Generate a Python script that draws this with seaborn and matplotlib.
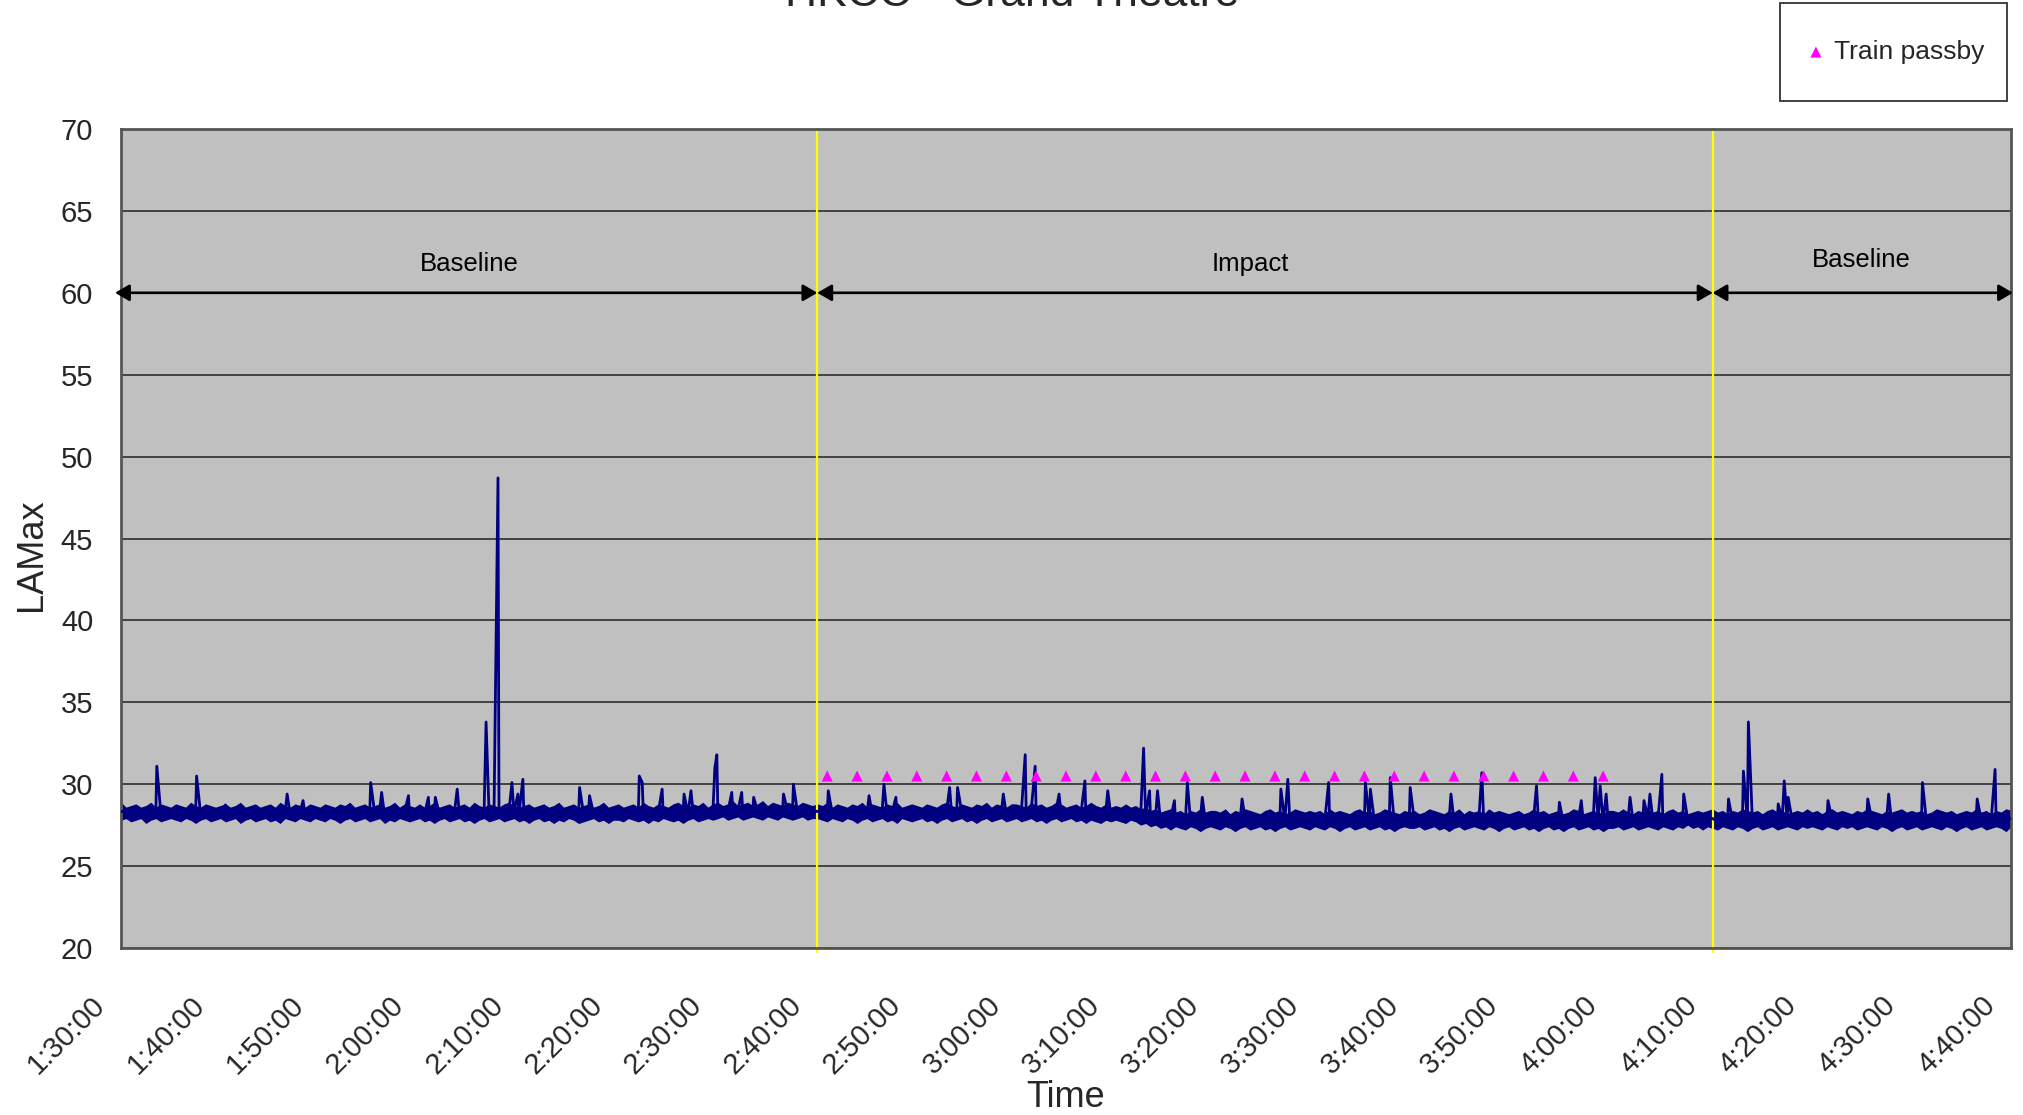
import matplotlib
matplotlib.use("Agg")
import numpy as np
import pandas as pd
import matplotlib.pyplot as plt
import seaborn as sns
from matplotlib.patches import Rectangle
from matplotlib.transforms import ScaledTranslation

# ---------------------------------------------------------------- data
start_time = "1:30:00"
sample_step_s = 30  # one envelope pair every 30 s

# highest LAMax in each 30 s slot, 1:30:00 to 4:40:00 (one row per 10 minutes)
lamax_high = [
    28.9, 28.6, 28.7, 28.8, 28.6, 28.7, 28.9, 28.6, 28.8, 28.7, 28.6, 28.8, 28.7, 28.6, 28.9, 28.7, 28.6, 28.8, 28.7, 28.6,
    28.7, 28.8, 28.6, 28.7, 28.9, 28.6, 28.7, 28.8, 28.6, 28.7, 28.8, 28.6, 28.9, 28.7, 28.6, 28.8, 28.7, 28.6, 28.8, 28.7,
    28.6, 28.8, 28.7, 28.6, 28.8, 28.7, 28.9, 28.6, 28.7, 28.8, 28.6, 28.7, 28.8, 28.6, 28.7, 28.9, 28.6, 28.8, 28.7, 28.6,
    28.8, 28.6, 28.7, 28.9, 28.6, 28.7, 28.8, 28.6, 28.7, 28.8, 28.6, 28.9, 28.7, 28.6, 28.8, 28.7, 28.6, 28.8, 28.9, 28.7,
    28.6, 28.7, 28.8, 28.6, 28.7, 28.8, 28.6, 28.7, 28.9, 28.6, 28.7, 28.8, 28.6, 28.7, 28.8, 28.6, 28.7, 28.9, 28.6, 28.7,
    28.8, 28.6, 28.7, 28.8, 28.6, 28.9, 28.7, 28.6, 28.8, 28.7, 28.6, 28.8, 28.9, 28.7, 28.6, 28.8, 28.7, 28.9, 28.6, 28.8,
    28.9, 28.7, 28.8, 29.0, 28.7, 28.8, 28.9, 28.7, 28.8, 29.0, 28.7, 28.9, 28.8, 28.7, 28.9, 28.8, 28.7, 28.9, 28.8, 28.7,
    28.8, 28.7, 28.9, 28.6, 28.8, 28.7, 28.6, 28.8, 28.7, 28.9, 28.6, 28.8, 28.7, 28.6, 28.8, 28.7, 28.9, 28.6, 28.7, 28.8,
    28.7, 28.6, 28.8, 28.7, 28.6, 28.8, 28.9, 28.7, 28.6, 28.8, 28.7, 28.6, 28.8, 28.7, 28.9, 28.6, 28.8, 28.7, 28.6, 28.8,
    28.8, 28.7, 28.6, 28.9, 28.7, 28.8, 28.6, 28.7, 28.9, 28.8, 28.6, 28.7, 28.8, 28.6, 28.7, 28.9, 28.7, 28.6, 28.8, 28.6,
    28.7, 28.6, 28.8, 28.6, 28.7, 28.5, 28.6, 28.4, 28.5, 28.3, 28.4, 28.5, 28.3, 28.4, 28.2, 28.4, 28.3, 28.5, 28.3, 28.4,
    28.4, 28.3, 28.5, 28.2, 28.4, 28.3, 28.5, 28.4, 28.3, 28.2, 28.4, 28.5, 28.3, 28.4, 28.2, 28.3, 28.5, 28.4, 28.3, 28.4,
    28.3, 28.4, 28.2, 28.5, 28.3, 28.4, 28.3, 28.2, 28.4, 28.5, 28.3, 28.4, 28.2, 28.3, 28.5, 28.4, 28.3, 28.2, 28.4, 28.3,
    28.4, 28.2, 28.3, 28.5, 28.4, 28.3, 28.2, 28.4, 28.3, 28.5, 28.2, 28.4, 28.3, 28.4, 28.2, 28.5, 28.3, 28.4, 28.3, 28.2,
    28.3, 28.4, 28.2, 28.3, 28.5, 28.3, 28.4, 28.2, 28.3, 28.4, 28.2, 28.3, 28.5, 28.4, 28.2, 28.3, 28.4, 28.3, 28.2, 28.4,
    28.4, 28.3, 28.5, 28.3, 28.2, 28.4, 28.3, 28.5, 28.3, 28.4, 28.2, 28.4, 28.5, 28.3, 28.4, 28.2, 28.3, 28.4, 28.3, 28.4,
    28.5, 28.3, 28.4, 28.2, 28.4, 28.3, 28.5, 28.4, 28.3, 28.4, 28.2, 28.4, 28.5, 28.3, 28.4, 28.2, 28.3, 28.4, 28.3, 28.5,
    28.3, 28.4, 28.2, 28.4, 28.5, 28.3, 28.4, 28.3, 28.2, 28.4, 28.3, 28.5, 28.4, 28.3, 28.2, 28.4, 28.3, 28.4, 28.5, 28.3,
    28.4, 28.3, 28.4, 28.2, 28.3, 28.5, 28.4, 28.3, 28.4, 28.2, 28.3, 28.4, 28.3, 28.5, 28.3, 28.4, 28.2, 28.4, 28.3, 28.5,
    28.4,
]

# lowest LAMax in each 30 s slot
lamax_low = [
    27.8, 27.9, 27.7, 27.8, 27.9, 27.6, 27.8, 27.9, 27.7, 27.8, 27.9, 27.8, 27.7, 27.9, 27.8, 27.6, 27.8, 27.9, 27.7, 27.8,
    27.9, 27.7, 27.8, 27.9, 27.6, 27.8, 27.9, 27.7, 27.8, 27.9, 27.7, 27.8, 27.6, 27.9, 27.8, 27.7, 27.9, 27.8, 27.7, 27.9,
    27.8, 27.7, 27.9, 27.8, 27.6, 27.8, 27.9, 27.7, 27.8, 27.9, 27.7, 27.8, 27.9, 27.6, 27.8, 27.7, 27.9, 27.8, 27.7, 27.8,
    27.9, 27.7, 27.8, 27.6, 27.8, 27.9, 27.7, 27.8, 27.9, 27.7, 27.8, 27.6, 27.8, 27.9, 27.7, 27.8, 27.9, 27.7, 27.8, 27.9,
    27.7, 27.8, 27.6, 27.8, 27.9, 27.7, 27.8, 27.6, 27.8, 27.7, 27.9, 27.8, 27.6, 27.7, 27.8, 27.9, 27.7, 27.8, 27.6, 27.8,
    27.8, 27.7, 27.9, 27.8, 27.7, 27.8, 27.6, 27.8, 27.7, 27.9, 27.8, 27.7, 27.8, 27.6, 27.8, 27.9, 27.7, 27.8, 27.9, 27.8,
    27.9, 28.0, 27.8, 27.9, 28.0, 27.8, 27.9, 28.0, 27.9, 27.8, 28.0, 27.9, 27.8, 28.0, 27.9, 27.8, 27.9, 28.0, 27.8, 27.9,
    27.9, 27.8, 27.7, 27.9, 27.8, 27.7, 27.9, 27.8, 27.6, 27.8, 27.9, 27.7, 27.8, 27.9, 27.7, 27.8, 27.6, 27.9, 27.8, 27.7,
    27.8, 27.9, 27.7, 27.8, 27.6, 27.8, 27.9, 27.7, 27.8, 27.9, 27.7, 27.8, 27.6, 27.8, 27.9, 27.7, 27.8, 27.9, 27.7, 27.8,
    27.9, 27.7, 27.8, 27.9, 27.7, 27.8, 27.6, 27.8, 27.9, 27.7, 27.8, 27.9, 27.7, 27.8, 27.6, 27.8, 27.7, 27.6, 27.8, 27.7,
    27.8, 27.7, 27.6, 27.8, 27.7, 27.5, 27.6, 27.4, 27.5, 27.3, 27.4, 27.2, 27.4, 27.3, 27.2, 27.4, 27.3, 27.1, 27.3, 27.4,
    27.3, 27.2, 27.4, 27.3, 27.1, 27.3, 27.4, 27.2, 27.3, 27.4, 27.2, 27.3, 27.1, 27.3, 27.4, 27.2, 27.3, 27.4, 27.3, 27.2,
    27.4, 27.3, 27.2, 27.4, 27.3, 27.1, 27.3, 27.4, 27.2, 27.3, 27.4, 27.2, 27.3, 27.4, 27.2, 27.3, 27.1, 27.3, 27.4, 27.3,
    27.3, 27.4, 27.2, 27.3, 27.4, 27.2, 27.3, 27.1, 27.3, 27.4, 27.2, 27.3, 27.4, 27.3, 27.2, 27.4, 27.3, 27.1, 27.3, 27.4,
    27.2, 27.3, 27.4, 27.2, 27.3, 27.1, 27.3, 27.4, 27.2, 27.3, 27.1, 27.3, 27.4, 27.2, 27.3, 27.4, 27.2, 27.3, 27.1, 27.3,
    27.3, 27.4, 27.2, 27.3, 27.4, 27.2, 27.3, 27.4, 27.3, 27.2, 27.4, 27.3, 27.2, 27.4, 27.3, 27.5, 27.3, 27.4, 27.2, 27.4,
    27.3, 27.2, 27.4, 27.3, 27.2, 27.4, 27.3, 27.1, 27.3, 27.4, 27.2, 27.3, 27.4, 27.2, 27.3, 27.4, 27.3, 27.2, 27.4, 27.3,
    27.4, 27.3, 27.2, 27.4, 27.3, 27.2, 27.4, 27.3, 27.4, 27.2, 27.3, 27.4, 27.3, 27.2, 27.4, 27.3, 27.1, 27.3, 27.4, 27.2,
    27.3, 27.4, 27.2, 27.3, 27.4, 27.3, 27.2, 27.4, 27.3, 27.1, 27.3, 27.4, 27.2, 27.3, 27.4, 27.2, 27.3, 27.4, 27.3, 27.1,
    27.4,
]

# short noise events between the regular readings
spike_times = [
    "1:33:36", "1:37:36", "1:40:30", "1:46:42", "1:48:18", "1:55:06", "1:56:12", "1:58:54",
    "2:00:54", "2:01:36", "2:03:48", "2:06:42", "2:07:54", "2:09:18", "2:09:54", "2:10:24",
    "2:16:06", "2:17:06", "2:22:06", "2:22:24", "2:24:24", "2:26:36", "2:27:18", "2:29:42",
    "2:29:54", "2:31:24", "2:32:24", "2:33:36", "2:36:36", "2:37:36",
    "2:41:06", "2:45:12", "2:46:42", "2:47:54", "2:53:18", "2:54:06", "2:58:42", "3:00:54",
    "3:01:54", "3:04:18", "3:06:54", "3:09:12", "3:12:48", "3:13:24", "3:14:12", "3:15:54",
    "3:17:12", "3:18:42", "3:22:42", "3:26:36", "3:27:18", "3:31:24", "3:35:06", "3:35:36",
    "3:37:36", "3:39:36", "3:43:42", "3:46:48", "3:52:18", "3:54:36", "3:56:48", "3:58:12",
    "3:58:42", "3:59:18", "4:01:42", "4:03:06", "4:03:42", "4:04:54", "4:07:06",
    "4:11:36", "4:13:06", "4:13:36", "4:16:36", "4:17:12", "4:17:36", "4:21:36", "4:25:36",
    "4:27:42", "4:31:06", "4:36:36", "4:38:24",
]
spike_levels = [
    31.1, 30.5, 29.7, 29.4, 29.0, 30.1, 29.5, 29.3,
    29.2, 29.2, 29.7, 33.8, 48.7, 30.1, 29.4, 30.3,
    29.8, 29.3, 30.5, 30.1, 29.7, 29.4, 29.6, 31.0,
    31.8, 29.5, 29.5, 29.2, 29.4, 30.0,
    29.6, 29.3, 30.0, 29.2, 29.8, 29.8, 29.4, 31.8,
    31.1, 29.4, 30.2, 29.6, 32.2, 29.6, 29.6, 29.0,
    30.1, 29.2, 29.1, 29.7, 30.3, 30.1, 30.1, 29.7,
    30.4, 29.8, 29.4, 30.7, 29.9, 28.9, 29.0, 30.4,
    29.9, 29.4, 29.2, 29.0, 29.4, 30.6, 29.4,
    29.1, 30.8, 33.8, 28.8, 30.2, 29.2, 29.0, 29.1,
    29.4, 30.1, 29.1, 30.9,
]

train_times = [
    "2:41:00", "2:44:00", "2:47:00", "2:50:00", "2:53:00", "2:56:00", "2:59:00", "3:02:00", "3:05:00",
    "3:08:00", "3:11:00", "3:14:00", "3:17:00", "3:20:00", "3:23:00", "3:26:00", "3:29:00", "3:32:00",
    "3:35:00", "3:38:00", "3:41:00", "3:44:00", "3:47:00", "3:50:00", "3:53:00", "3:56:00", "3:59:00",
]
train_levels = [
    30.5, 30.5, 30.5, 30.5, 30.5, 30.5, 30.5, 30.5, 30.5,
    30.5, 30.5, 30.5, 30.5, 30.5, 30.5, 30.5, 30.5, 30.5,
    30.5, 30.5, 30.5, 30.5, 30.5, 30.5, 30.5, 30.5, 30.5,
]

period_names = ["Baseline", "Impact", "Baseline"]
arrow_starts = ["1:29:24", "2:40:00", "4:10:00"]
arrow_ends = ["2:40:00", "4:10:00", "4:40:12"]
arrow_level = 60
period_label_times = ["2:05:00", "3:23:30", "4:25:00"]
period_label_levels = [61.75, 61.75, 62.0]
change_times = ["2:40:00", "4:10:00"]

tick_labels = [
    "1:30:00", "1:40:00", "1:50:00", "2:00:00", "2:10:00", "2:20:00", "2:30:00",
    "2:40:00", "2:50:00", "3:00:00", "3:10:00", "3:20:00", "3:30:00", "3:40:00",
    "3:50:00", "4:00:00", "4:10:00", "4:20:00", "4:30:00", "4:40:00",
]
y_ticks = [20, 25, 30, 35, 40, 45, 50, 55, 60, 65, 70]


def minutes(clock):
    """Clock string h:mm:ss -> minutes after midnight."""
    return pd.to_timedelta(clock).total_seconds() / 60.0


# ---------------------------------------------------------------- frames
t0 = minutes(start_time)
slot_minutes = t0 + np.arange(len(lamax_high)) * sample_step_s / 60.0
envelope = pd.concat([
    pd.DataFrame({"minute": slot_minutes, "LAMax": lamax_high}),
    pd.DataFrame({"minute": slot_minutes, "LAMax": lamax_low}),
]).sort_values("minute", kind="stable").reset_index(drop=True)
spikes = pd.DataFrame({"minute": [minutes(s) for s in spike_times], "LAMax": spike_levels})
with_spikes = pd.concat([envelope, spikes]).sort_values("minute", kind="stable").reset_index(drop=True)
trains = pd.DataFrame({"minute": [minutes(s) for s in train_times], "LAMax": train_levels})

# ---------------------------------------------------------------- style
sns.set_style("white")
plt.rcParams["font.family"] = ["Liberation Sans", "DejaVu Sans"]

W, H = 2024, 1115
NAVY = "#000080"
fig = plt.figure(figsize=(W / 100, H / 100), dpi=100)
ax = fig.add_axes([121 / W, 1 - 948 / H, 1890 / W, 819 / H])
ax.set_facecolor("#C0C0C0")

# min-max band of the readings
sns.lineplot(data=envelope, x="minute", y="LAMax", ax=ax, color=NAVY, linewidth=1.5,
             estimator="mean", errorbar=("pi", 100),
             err_kws={"alpha": 1, "linewidth": 0}, zorder=3)
# running level with the short events on top of the band
sns.lineplot(data=with_spikes, x="minute", y="LAMax", ax=ax, color=NAVY, linewidth=2.0,
             estimator="mean", errorbar=None, zorder=3)
sns.scatterplot(data=trains, x="minute", y="LAMax", ax=ax, marker="^", s=64,
                color="#FF00FF", edgecolor="none", linewidth=0, zorder=4,
                label="Train passby")
if ax.get_legend() is not None:
    ax.get_legend().remove()

for ct in change_times:
    ax.axvline(minutes(ct), color="#FFFF00", lw=1.6, zorder=2.5, clip_on=False,
               ymin=-0.005, ymax=1.0)

for a, b in zip(arrow_starts, arrow_ends):
    ax.annotate("", xy=(minutes(a), arrow_level), xytext=(minutes(b), arrow_level),
                arrowprops=dict(arrowstyle="<|-|>,head_length=0.43,head_width=0.25",
                                color="black", lw=1.9, shrinkA=0, shrinkB=0,
                                mutation_scale=20),
                annotation_clip=False, zorder=5)

for name, t, lv in zip(period_names, period_label_times, period_label_levels):
    ax.text(minutes(t), lv, name, ha="center", va="center", fontsize=18.5, color="black")

ax.set_xlim(minutes(tick_labels[0]), minutes(tick_labels[-1]))
ax.set_ylim(y_ticks[0], y_ticks[-1])

ax.set_yticks(y_ticks)
ax.set_xticks([minutes(s) for s in tick_labels])
ax.set_xticklabels(tick_labels, rotation=45, ha="right", va="center",
                   rotation_mode="anchor", fontsize=21)
ax.tick_params(axis="y", labelsize=21, length=0, pad=20)
ax.tick_params(axis="x", length=0, pad=38)
shift = ScaledTranslation(-20 / 100, 0, fig.dpi_scale_trans)
for lbl in ax.get_xticklabels():
    lbl.set_transform(lbl.get_transform() + shift)

ax.yaxis.grid(True, color="#202020", lw=1.1, zorder=1)
ax.xaxis.grid(False)
ax.set_axisbelow(True)
for sp in ax.spines.values():
    sp.set_visible(True)
    sp.set_color("#555555")
    sp.set_linewidth(2)

ax.set_xlabel("Time", fontsize=26)
ax.xaxis.label.set_va("baseline")
ax.xaxis.set_label_coords(0.5, (948 - 1107) / 819)
ax.set_ylabel("LAMax", fontsize=26)
ax.yaxis.set_label_coords((49 - 121) / 1890, (948 - 555) / 819)

fig.text(1012 / W, 1 - 6 / H, "HKCC - Grand Theatre", ha="center", va="baseline", fontsize=32)

# legend: white box in the top-right corner, entry centred vertically inside it
fig.add_artist(Rectangle((1780 / W, 1 - 101 / H), 227 / W, 98 / H,
                         transform=fig.transFigure, facecolor="white",
                         edgecolor="#333333", linewidth=1.3, zorder=1))
handles, labels = ax.get_legend_handles_labels()
fig.legend(handles, labels, loc="center left", bbox_to_anchor=(1808 / W, 1 - 52 / H),
           bbox_transform=fig.transFigure, frameon=False, fontsize=19,
           borderpad=0, borderaxespad=0, handlelength=0.6, handletextpad=0.38)

fig.savefig("out.png", dpi=100, facecolor="white")
